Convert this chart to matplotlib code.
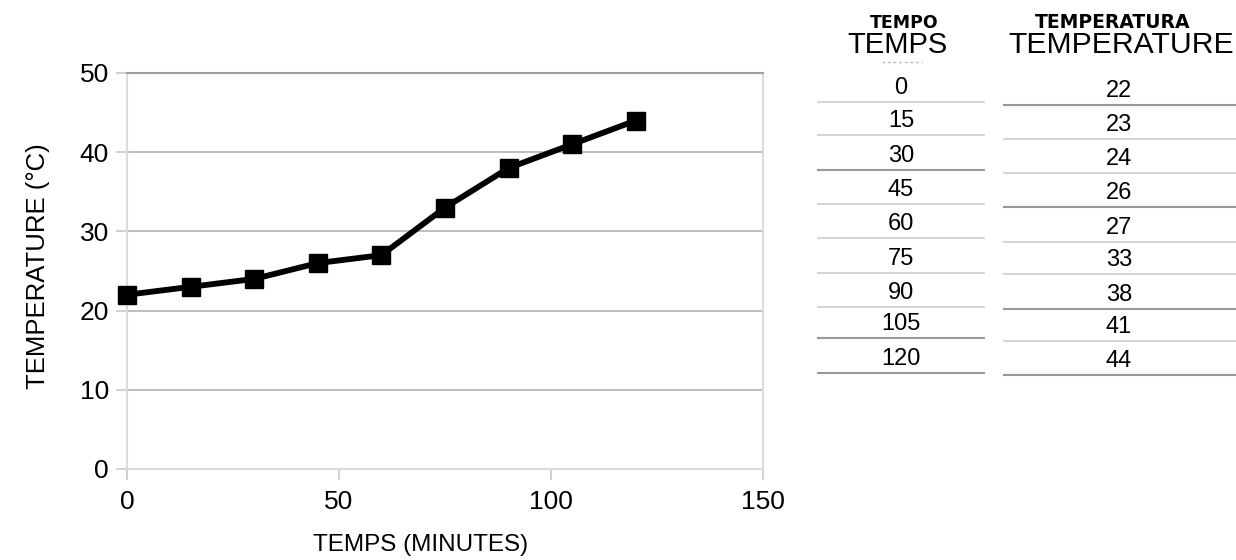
import matplotlib.pyplot as plt
from matplotlib.lines import Line2D

plt.rcParams['font.family'] = ['Liberation Sans', 'DejaVu Sans']

# data
temps = [0, 15, 30, 45, 60, 75, 90, 105, 120]
temperature = [22, 23, 24, 26, 27, 33, 38, 41, 44]
x_ticks = [0, 50, 100, 150]
y_ticks = [0, 10, 20, 30, 40, 50]

W, H = 1236, 560
fig = plt.figure(figsize=(W / 100, H / 100), dpi=100)
ax = fig.add_axes([127 / W, 1 - 469 / H, (763 - 127) / W, (469 - 73) / H])

ax.plot(temps, temperature, color='black', lw=4.2, marker='s', ms=13.5,
        solid_joinstyle='miter', zorder=3, clip_on=False)

ax.set_xlim(0, 150)
ax.set_ylim(0, 50)
ax.set_xticks(x_ticks)
ax.set_yticks(y_ticks)
ax.yaxis.grid(True, color='#b3b3b3', lw=1.2)
ax.set_axisbelow(True)
for s in ax.spines.values():
    s.set_color('#dcdcdc')
    s.set_linewidth(1.5)
ax.spines['top'].set_color('#a0a0a0')
ax.tick_params(axis='both', colors='#c8c8c8', length=8, width=1.2,
               labelcolor='black', labelsize=19)
ax.tick_params(axis='x', pad=7)
ax.tick_params(axis='y', pad=5)

fig.text(421 / W, 1 - 545 / H, 'TEMPS (MINUTES)', fontsize=17.5,
         ha='center', va='center')
fig.text(38 / W, 1 - 266 / H, 'TEMPERATURE (°C)', fontsize=18.5,
         ha='center', va='center', rotation=90)

# table on the right
def fx(px):
    return px / W

def fy(py):
    return 1 - py / H

fig.text(fx(904), fy(28), 'TEMPO', fontsize=12.5, fontweight='bold',
         family='DejaVu Sans', ha='center', va='baseline')
fig.text(fx(898), fy(53), 'TEMPS', fontsize=21, ha='center', va='baseline')
fig.text(fx(1113), fy(28), 'TEMPERATURA', fontsize=13.5, fontweight='bold',
         family='DejaVu Sans', ha='center', va='baseline')
fig.text(fx(1121), fy(53), 'TEMPERATURE', fontsize=21.7, ha='center',
         va='baseline')
fig.add_artist(Line2D([fx(882), fx(922)], [fy(62), fy(62)], color='#bbbbbb',
                      lw=1, ls=(0, (2, 2))))

left_lines = [102, 135, 170, 204, 238, 273, 307, 338, 373]
right_lines = [105, 139, 173, 207, 242, 274, 309, 341, 375]
dark_left = {170, 338, 373}
dark_right = {105, 207, 309, 375}
for i, (t, v) in enumerate(zip(temps, temperature)):
    ly = left_lines[i]
    ry = right_lines[i]
    fig.text(fx(901), fy(ly - 14), str(t), fontsize=17, ha='center', va='center')
    fig.text(fx(1119), fy(ry - 14), str(v), fontsize=17, ha='center', va='center')
    fig.add_artist(Line2D([fx(818), fx(984)], [fy(ly), fy(ly)],
                          color='#999999' if ly in dark_left else '#cccccc',
                          lw=1.5 if ly in dark_left else 1.2))
    fig.add_artist(Line2D([fx(1004), fx(1236)], [fy(ry), fy(ry)],
                          color='#999999' if ry in dark_right else '#cccccc',
                          lw=1.5 if ry in dark_right else 1.2))

fig.savefig('out.png', dpi=100)
